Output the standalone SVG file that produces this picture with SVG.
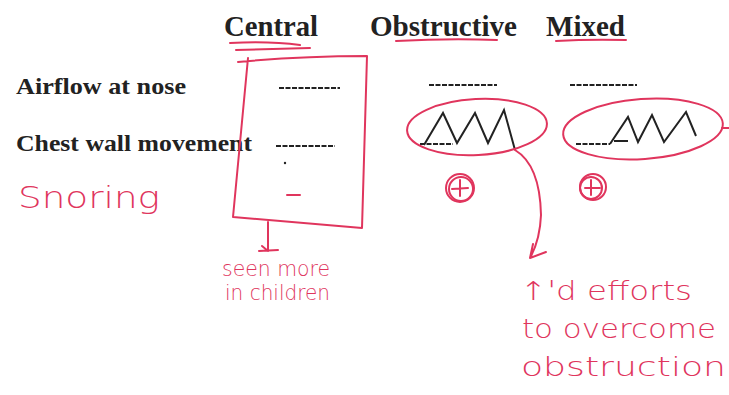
<svg xmlns="http://www.w3.org/2000/svg" width="729" height="395" viewBox="0 0 729 395">
<defs>
<style>
.hd{font-family:"Liberation Serif","Times New Roman",serif;font-weight:bold;fill:#222}
.hw{font-family:"DejaVu Sans","Liberation Sans",sans-serif;font-weight:200;fill:#e0355d}
.rd{fill:none;stroke:#e0355d;stroke-width:2;stroke-linecap:round;stroke-linejoin:round}
.bk{fill:none;stroke:#222;stroke-width:2;stroke-linejoin:miter}
.dash{fill:none;stroke:#222;stroke-width:2;stroke-dasharray:5 1.5}
</style>
</defs>
<rect width="729" height="395" fill="#fff"/>

<g id="header-central">
<text class="hd" x="224" y="36" font-size="29" textLength="94" lengthAdjust="spacingAndGlyphs">Central</text>
<path class="rd" d="M230 43 Q270 41 300 45 M236 50 L310 48"/>
</g>
<g id="header-obstructive">
<text class="hd" x="370" y="36" font-size="29" textLength="147" lengthAdjust="spacingAndGlyphs">Obstructive</text>
<path class="rd" d="M396 41 Q450 38 497 40"/>
</g>
<g id="header-mixed">
<text class="hd" x="546" y="36" font-size="29" textLength="79" lengthAdjust="spacingAndGlyphs">Mixed</text>
<path class="rd" d="M556 41 Q590 39 626 40"/>
</g>

<g id="row-airflow">
<text class="hd" x="16" y="94" font-size="23" textLength="170" lengthAdjust="spacingAndGlyphs">Airflow at nose</text>
<path class="dash" d="M279 88 L340 88"/>
<path class="dash" d="M429 85 L497 85"/>
<path class="dash" d="M570 85 L637 85" stroke-dasharray="3 2"/>
</g>

<g id="row-chest">
<text class="hd" x="16" y="151" font-size="23" textLength="236" lengthAdjust="spacingAndGlyphs">Chest wall movement</text>
<path class="dash" d="M276 146 L335 146"/>
<circle cx="285" cy="163" r="1.2" fill="#222"/>
<path class="bk" d="M424 145 L443 113 L457 143 L475 113 L488 143 L504 110 L515 150"/>
<path class="dash" d="M420 144 L453 144"/>
<path class="dash" d="M576 144 L610 144"/>
<path class="bk" d="M610 144 L628 117 L638 142 L652 115 L664 142 L686 112 L696 136"/>
<path class="bk" d="M614 141 L628 141" stroke-width="1.5"/>
</g>

<g id="row-snoring">
<text class="hw" x="18" y="208" font-size="30" textLength="142" lengthAdjust="spacingAndGlyphs">Snoring</text>
<path class="rd" d="M287 195 L300 195" stroke-width="3"/>
<circle class="rd" cx="460" cy="188" r="14"/>
<circle class="rd" cx="461" cy="189" r="12"/>
<path class="rd" d="M460 180 L460 196 M452 189 L468 188"/>
<circle class="rd" cx="593" cy="187" r="13"/>
<circle class="rd" cx="591" cy="188" r="11"/>
<path class="rd" d="M591 180 L591 195 M585 188 L600 188"/>
</g>

<g id="central-box">
<path class="rd" d="M238 62 Q300 56 367 56 L362 228 L233 217 L248 58"/>
</g>

<g id="obstructive-ellipse">
<ellipse class="rd" cx="477" cy="127" rx="70" ry="28" transform="rotate(-3 477 127)"/>
</g>
<g id="mixed-ellipse">
<ellipse class="rd" cx="643" cy="129" rx="80" ry="30" transform="rotate(-4 643 129)"/>
<path class="rd" d="M722 128 L729 128"/>
</g>

<g id="connectors">
<path class="rd" d="M268 222 L268 251 M259 251 L278 250 M262 246 L268 251"/>
<path class="rd" d="M515 150 Q540 165 541 215 Q540 240 530 258 M530 258 L533 244 M530 258 L546 252"/>
</g>

<g id="note-children">
<text class="hw" x="222" y="276" font-size="22" textLength="108" lengthAdjust="spacingAndGlyphs">seen more</text>
<text class="hw" x="225" y="300" font-size="22" textLength="105" lengthAdjust="spacingAndGlyphs">in children</text>
</g>

<g id="note-efforts">
<text class="hw" x="520" y="300" font-size="26" textLength="172" lengthAdjust="spacingAndGlyphs">↑'d efforts</text>
<text class="hw" x="522" y="338" font-size="26" textLength="194" lengthAdjust="spacingAndGlyphs">to overcome</text>
<text class="hw" x="521" y="376" font-size="26" textLength="205" lengthAdjust="spacingAndGlyphs">obstruction</text>
</g>
</svg>
